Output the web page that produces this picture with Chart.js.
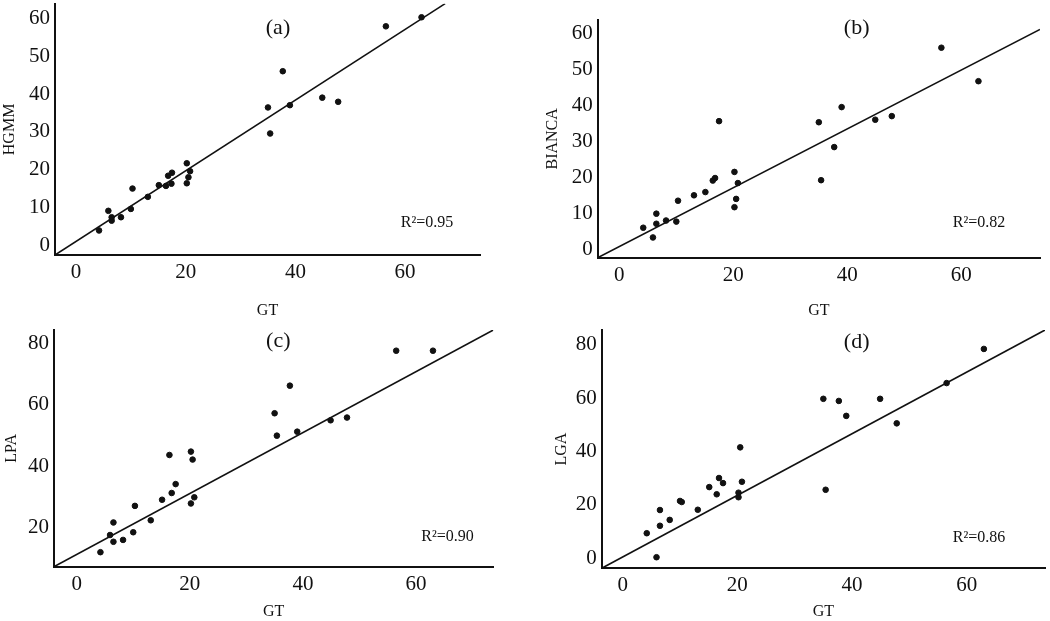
<!DOCTYPE html>
<html>
  <head>
    <title>GT vs segmentation volumes</title>
    <style>
      body {
        margin: 0;
        background: white;
      }

      .page{
        position: relative;
        width: 1050px;
        height: 621px;
        overflow: hidden;
      }

      .panel{
        position: absolute;
      }
    </style>
  </head>
  <body>
    <div class="page">
      <div class="panel" style="left:0; top:0; width:525px; height:320px;"><canvas id="chartA"></canvas></div>
      <div class="panel" style="left:525px; top:0; width:525px; height:320px;"><canvas id="chartB"></canvas></div>
      <div class="panel" style="left:0; top:310px; width:525px; height:311px;"><canvas id="chartC"></canvas></div>
      <div class="panel" style="left:525px; top:310px; width:525px; height:311px;"><canvas id="chartD"></canvas></div>
    </div>

    <script src="https://cdn.jsdelivr.net/npm/chart.js"></script>
    <script>
      // ground truth values (same cases in every panel)
      var gt = [4.2, 5.9, 6.5, 6.5, 8.2, 10.0, 10.3, 13.1, 15.1, 16.4, 16.8, 17.4, 17.5,
                20.2, 20.2, 20.5, 20.8, 35.0, 35.4, 37.7, 39.0, 44.9, 47.8, 56.5, 63.0];

      var hgmm   = [3.9, 9.1, 7.4, 6.5, 7.4, 9.6, 15.0, 12.8, 15.9, 15.7, 18.4, 16.3, 19.2,
                    21.7, 16.4, 18.0, 19.6, 36.5, 29.6, 46.1, 37.1, 39.1, 38.0, 58.0, 60.4];
      var bianca = [6.0, 3.3, 9.9, 7.1, 8.0, 7.7, 13.5, 15.0, 15.9, 19.1, 19.8, null, 35.6,
                    11.7, 21.5, 14.0, 18.4, 35.3, 19.2, 28.4, 39.5, 36.0, 37.0, 56.0, 46.7];
      var lpa    = [11.9, 17.5, 21.6, 15.3, 15.9, 18.4, 27.0, 22.3, 29.0, 43.6, 31.2, null, 34.1,
                    27.8, 44.7, 42.1, 29.8, 57.2, 49.9, 66.2, 51.2, 54.9, 55.8, 77.6, 77.6];
      var lga    = [9.4, 0.4, 18.1, 12.2, 14.4, 21.5, 21.1, 18.2, 26.7, 24.0, 30.1, null, 28.2,
                    22.9, 24.6, 41.6, 28.7, 59.8, 25.7, 59.0, 53.4, 59.8, 50.6, 65.7, 78.5];

      // fitted line end points [x, y]
      var fitA = [[-3.83, -2.61], [67.3, 64.0]];
      var fitB = [[-3.79, -2.33], [73.8, 61.1]];
      var fitC = [[-4.01, 7.17], [73.67, 84.35]];
      var fitD = [[-3.66, -3.75], [73.66, 85.6]];

      var xTicks = [0, 20, 40, 60];
      var yTicks60 = [0, 10, 20, 30, 40, 50, 60];
      var yTicks80a = [20, 40, 60, 80];
      var yTicks80b = [0, 20, 40, 60, 80];

      var serif = '"Liberation Serif", "DejaVu Serif", serif';
      var ink = '#111';

      // draws the panel letter and the R² note
      const notesPlugin = {
        id: 'notes',
        afterDraw(chart, args, opts) {
          const ctx = chart.ctx;
          ctx.save();
          ctx.fillStyle = ink;
          ctx.textAlign = 'center';
          ctx.textBaseline = 'middle';
          opts.items.forEach(function(it) {
            ctx.font = it.size + 'px ' + serif;
            ctx.fillText(it.text, it.x, it.y);
          });
          ctx.restore();
        }
      };

      function noEdgePadding(axis) {
        axis.paddingTop = 0;
        axis.paddingBottom = 0;
        axis.paddingLeft = 0;
        axis.paddingRight = 0;
      }

      function makePanel(id, yValues, fit, cfg) {
        var points = [];
        gt.forEach(function(x, i) {
          if (yValues[i] !== null) points.push({x: x, y: yValues[i]});
        });

        return new Chart(document.getElementById(id), {
          type: 'scatter',
          data: {
            datasets: [{
              data: points,
              backgroundColor: ink,
              borderColor: ink,
              pointRadius: 2.8,
              pointHoverRadius: 2.8
            }, {
              data: fit.map(function(p) { return {x: p[0], y: p[1]}; }),
              showLine: true,
              borderColor: ink,
              borderWidth: 1.6,
              pointRadius: 0,
              fill: false
            }]
          },
          options: {
            animation: false,
            responsive: true,
            maintainAspectRatio: false,
            layout: {
              padding: cfg.padding
            },
            plugins: {
              legend: {display: false},
              tooltip: {enabled: false},
              notes: {items: cfg.notes}
            },
            scales: {
              x: {
                type: 'linear',
                min: cfg.xMin,
                max: cfg.xMax,
                afterBuildTicks: function(axis) { axis.ticks = xTicks.map(function(v) { return {value: v}; }); },
                afterFit: function(axis) { axis.height = cfg.xHeight; noEdgePadding(axis); },
                grid: {display: false, drawTicks: false},
                border: {display: true, color: ink, width: 2},
                ticks: {
                  autoSkip: false,
                  maxRotation: 0,
                  padding: 5,
                  color: ink,
                  font: {family: serif, size: 21}
                },
                title: {
                  display: true,
                  text: 'GT',
                  color: ink,
                  padding: 0,
                  font: {family: serif, size: 16}
                }
              },
              y: {
                type: 'linear',
                min: cfg.yMin,
                max: cfg.yMax,
                afterBuildTicks: function(axis) { axis.ticks = cfg.yTicks.map(function(v) { return {value: v}; }); },
                afterFit: function(axis) { axis.width = cfg.yWidth; noEdgePadding(axis); },
                grid: {display: false, drawTicks: false},
                border: {display: true, color: ink, width: 2},
                ticks: {
                  autoSkip: false,
                  padding: 5,
                  color: ink,
                  font: {family: serif, size: 21}
                },
                title: {
                  display: true,
                  text: cfg.yTitle,
                  color: ink,
                  padding: 0,
                  font: {family: serif, size: 16}
                }
              }
            }
          },
          plugins: [notesPlugin]
        });
      }

      makePanel('chartA', hgmm, fitA, {
        padding: {left: 0, top: 0, right: 45, bottom: 0},
        yWidth: 55, xHeight: 65,
        xMin: -3.83, xMax: 73.66, yMin: -2.61, yMax: 63.97,
        yTicks: yTicks60, yTitle: 'HGMM',
        notes: [{text: '(a)', x: 278, y: 28, size: 22}, {text: 'R²=0.95', x: 427, y: 223, size: 16}]
      });

      makePanel('chartB', bianca, fitB, {
        padding: {left: 18, top: 20, right: 10, bottom: 0},
        yWidth: 54.7, xHeight: 62.3,
        xMin: -3.79, xMax: 73.8, yMin: -2.33, yMax: 63.7,
        yTicks: yTicks60, yTitle: 'BIANCA',
        notes: [{text: '(b)', x: 331.7, y: 28, size: 22}, {text: 'R²=0.82', x: 454, y: 223, size: 16}]
      });

      makePanel('chartC', lpa, fitC, {
        padding: {left: 2.4, top: 20, right: 31.7, bottom: 0},
        yWidth: 51.6, xHeight: 54.3,
        xMin: -4.01, xMax: 73.67, yMin: 7.17, yMax: 84.35,
        yTicks: yTicks80a, yTitle: 'LPA',
        notes: [{text: '(c)', x: 278.3, y: 31.7, size: 22}, {text: 'R²=0.90', x: 447.5, y: 226.7, size: 16}]
      });

      makePanel('chartD', lga, fitD, {
        padding: {left: 27, top: 20, right: 5, bottom: 0},
        yWidth: 49.7, xHeight: 52.7,
        xMin: -3.66, xMax: 73.66, yMin: -3.75, yMax: 85.6,
        yTicks: yTicks80b, yTitle: 'LGA',
        notes: [{text: '(d)', x: 331.7, y: 32.7, size: 22}, {text: 'R²=0.86', x: 454, y: 227.7, size: 16}]
      });
    </script>
  </body>
</html>
